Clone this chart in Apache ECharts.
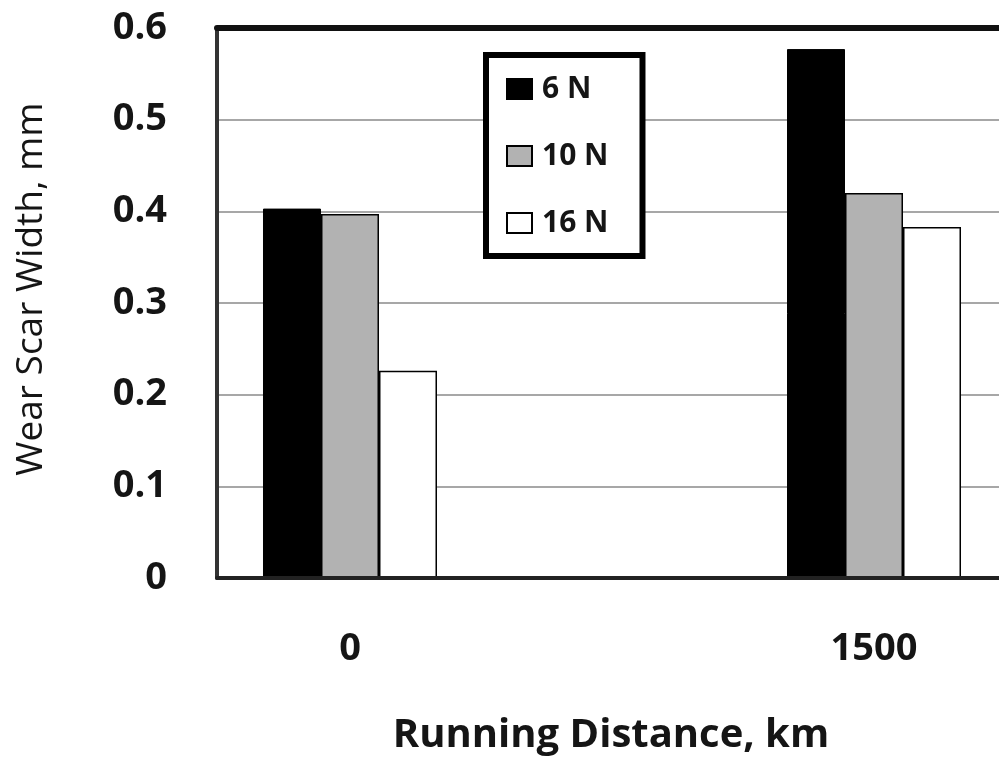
<!DOCTYPE html>
<html>
<head>
<meta charset="utf-8">
<script src="https://cdn.jsdelivr.net/npm/echarts@6/dist/echarts.min.js"></script>
<style>
html,body{margin:0;padding:0;background:#fff;}
#chart{width:999px;height:758px;}
</style>
</head>
<body>
<div id="chart"></div>
<script>
// Data
const distances = [0, 1500];                 // Running distance, km
const seriesNames = ['6 N', '10 N', '16 N'];
const load6N  = [0.403, 0.577];
const load10N = [0.397, 0.420];
const load16N = [0.226, 0.383];
const yTicks = [0, 0.1, 0.2, 0.3, 0.4, 0.5, 0.6];

const FONT = '"Open Sans", "DejaVu Sans", sans-serif';
const chart = echarts.init(document.getElementById('chart'), null, {renderer: 'canvas'});

function pairs(vals) { return distances.map((d, i) => [d, vals[i]]); }

const xMin = -380.7, xMax = 1857.8;

const barStyles = [
  {color: '#000000', borderColor: '#000000', borderWidth: 1},
  {color: '#b2b2b2', borderColor: '#000000', borderWidth: 1.5},
  {color: '#ffffff', borderColor: '#000000', borderWidth: 1.5}
];
const allValues = [load6N, load10N, load16N];

const option = {
  backgroundColor: '#ffffff',
  animation: false,
  grid: {left: 217, right: 0, top: 28, bottom: 180, show: false},
  xAxis: [
    {
      type: 'value', min: xMin, max: xMax, position: 'bottom', z: 10,
      axisLine: {show: true, onZero: false, lineStyle: {color: '#222', width: 4}},
      axisTick: {show: false},
      splitLine: {show: false},
      axisLabel: {
        show: true, customValues: distances, margin: 52,
        fontFamily: FONT, fontWeight: 'bold', fontSize: 38, color: '#151515',
        formatter: v => String(v)
      }
    },
    {
      type: 'value', min: xMin, max: xMax, position: 'top', z: 10,
      axisLine: {show: true, onZero: false, lineStyle: {color: '#111', width: 6}},
      axisTick: {show: false}, axisLabel: {show: false}, splitLine: {show: false}
    }
  ],
  yAxis: {
    type: 'value', min: yTicks[0], max: yTicks[yTicks.length - 1], interval: 0.1,
    axisLine: {show: true, onZero: false, lineStyle: {color: '#333', width: 4}},
    axisTick: {show: false},
    splitLine: {show: true, lineStyle: {color: '#8a8a8a', width: 1.5}},
    axisLabel: {
      margin: 50, fontFamily: FONT, fontWeight: 'bold', fontSize: 38, color: '#151515',
      formatter: v => (Math.abs(v) < 1e-9 ? '0' : v.toFixed(1))
    }
  },
  legend: {
    orient: 'vertical', left: 486, top: 55,
    padding: [19, 34, 18, 20],
    itemGap: 37, itemWidth: 25, itemHeight: 20, icon: 'rect',
    borderColor: '#000', borderWidth: 6, backgroundColor: '#fff',
    textStyle: {fontFamily: FONT, fontWeight: 'bold', fontSize: 30, color: '#151515',
                width: 82, padding: [0, 0, 0, 5]},
    data: seriesNames
  },
  series: seriesNames.map((name, i) => ({
    name: name, type: 'bar', xAxisIndex: 0,
    barWidth: 58, barGap: '0%',
    itemStyle: barStyles[i],
    data: pairs(allValues[i])
  })),
  graphic: [
    {
      type: 'text', x: 31, y: 289, rotation: Math.PI / 2,
      style: {text: 'Wear Scar Width, mm', font: '37px ' + FONT, fill: '#151515',
              align: 'center', verticalAlign: 'middle'}
    },
    {
      type: 'text', x: 611, y: 736,
      style: {text: 'Running Distance, km', font: 'bold 40px ' + FONT, fill: '#151515',
              align: 'center', verticalAlign: 'middle'}
    }
  ]
};
chart.setOption(option);
</script>
</body>
</html>
